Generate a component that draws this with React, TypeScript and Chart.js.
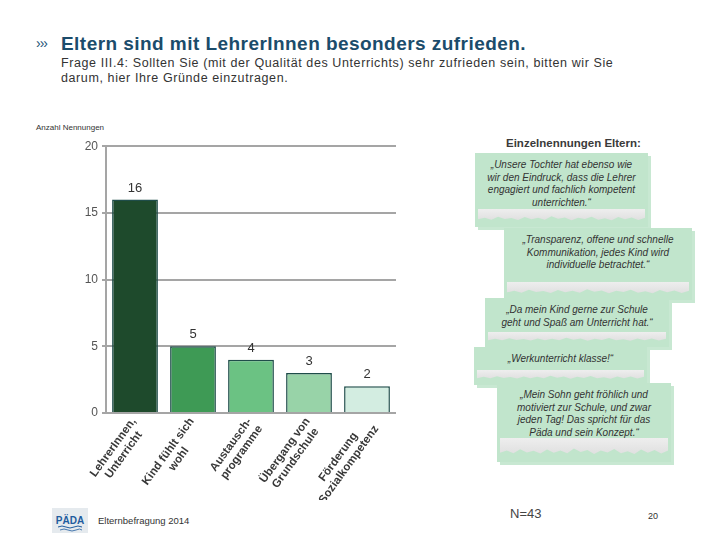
import React, { useEffect, useRef } from "react";
import { Chart, registerables } from "chart.js";

Chart.register(...registerables);

// ---- data ----
const categories: string[][] = [
  ["LehrerInnen,", "Unterricht"],
  ["Kind fühlt sich", "wohl"],
  ["Austausch-", "programme"],
  ["Übergang von", "Grundschule"],
  ["Förderung", "Sozialkompetenz"],
];
const counts = [16, 5, 4, 3, 2];
const barColors = ["#1e4a2c", "#3e9a55", "#6bc283", "#98d3a8", "#d3ede1"];
const yMin = 0;
const yMax = 20;
const yStep = 5;

const quoteTexts: string[][] = [
  ["„Unsere Tochter hat ebenso wie", "wir den Eindruck, dass die Lehrer", "engagiert und fachlich kompetent", "unterrichten.“"],
  ["„Transparenz, offene und schnelle", "Kommunikation, jedes Kind wird", "individuelle betrachtet.“"],
  ["„Da mein Kind gerne zur Schule", "geht und Spaß am Unterricht hat.“"],
  ["„Werkunterricht klasse!“"],
  ["„Mein Sohn geht fröhlich und", "motiviert zur Schule, und zwar", "jeden Tag! Das spricht für das", "Päda und sein Konzept.“"],
];

const titleText = "Eltern sind mit LehrerInnen besonders zufrieden.";
const subtitleLines = [
  "Frage III.4: Sollten Sie (mit der Qualität des Unterrichts) sehr zufrieden sein, bitten wir Sie",
  "darum, hier Ihre Gründe einzutragen.",
];
const yAxisTitle = "Anzahl Nennungen";
const quotesHeader = "Einzelnennungen Eltern:";
const footerText = "Elternbefragung 2014";
const nText = "N=43";
const pageNo = "20";

// ---- layout (not data) ----
const quoteBoxes = [
  { left: 475, top: 153, width: 173, textH: 56, stripH: 14 },
  { left: 504, top: 228, width: 188, textH: 54, stripH: 14 },
  { left: 485, top: 298, width: 184, textH: 34, stripH: 11 },
  { left: 474, top: 347, width: 173, textH: 23, stripH: 11 },
  { left: 497, top: 383, width: 174, textH: 55, stripH: 20 },
];

const FONT = "'Liberation Sans', Arial, Helvetica, sans-serif";
const LABEL_ANGLE = (54 * Math.PI) / 180;

const valueLabels = {
  id: "valueLabels",
  afterDatasetsDraw(chart: any) {
    const ctx = chart.ctx;
    const meta = chart.getDatasetMeta(0);
    const data = chart.data.datasets[0].data;
    ctx.save();
    ctx.font = `13px ${FONT}`;
    ctx.fillStyle = "#333333";
    ctx.textAlign = "center";
    ctx.textBaseline = "bottom";
    meta.data.forEach((el: any, i: number) => {
      ctx.fillText(String(data[i]), el.x, el.y - 5);
    });
    ctx.restore();
  },
};

// centred, rotated multi-line category labels placed via the x scale
const categoryLabels = {
  id: "categoryLabels",
  afterDraw(chart: any) {
    const ctx = chart.ctx;
    const xScale = chart.scales.x;
    const bottom = chart.chartArea.bottom;
    const labels = chart.data.labels as string[][];
    const lineH = 13;
    ctx.save();
    ctx.font = `bold 11.5px ${FONT}`;
    ctx.fillStyle = "#383838";
    ctx.textAlign = "center";
    ctx.textBaseline = "middle";
    labels.forEach((lines, i) => {
      const px = xScale.getPixelForValue(i) + 4;
      const py = bottom + 10;
      const maxW = Math.max(...lines.map((l) => ctx.measureText(l).width));
      ctx.save();
      ctx.translate(px, py);
      ctx.rotate(-LABEL_ANGLE);
      lines.forEach((l, j) => {
        const y = (j - (lines.length - 1) / 2) * lineH;
        ctx.fillText(l, -maxW / 2, y);
      });
      ctx.restore();
    });
    ctx.restore();
  },
};

function BarChart() {
  const ref = useRef<HTMLCanvasElement | null>(null);
  useEffect(() => {
    if (!ref.current) return;
    const chart = new Chart(ref.current, {
      type: "bar",
      data: {
        labels: categories,
        datasets: [
          {
            data: counts,
            backgroundColor: barColors,
            borderColor: "#1f4d4a",
            borderWidth: 1.5,
            categoryPercentage: 1,
            barPercentage: 0.79,
          },
        ],
      },
      options: {
        animation: false,
        responsive: false,
        devicePixelRatio: 1,
        layout: { padding: { top: 10, right: 14, bottom: 0, left: 0 } },
        plugins: {
          legend: { display: false },
          tooltip: { enabled: false },
          title: { display: false },
        },
        scales: {
          x: {
            grid: { display: false, drawTicks: false },
            border: { display: false },
            ticks: { display: false },
            afterFit: (scale: any) => {
              scale.height = 87;
            },
          },
          y: {
            min: yMin,
            max: yMax,
            ticks: {
              stepSize: yStep,
              padding: 4,
              color: "#555555",
              font: { family: FONT, size: 12 },
            },
            grid: { color: "#a5a5a5", lineWidth: 2, tickLength: 4, drawTicks: true },
            border: { display: true, color: "#a5a5a5", width: 2 },
            afterFit: (scale: any) => {
              scale.width = 46;
            },
          },
        },
      },
      plugins: [valueLabels, categoryLabels],
    });
    return () => chart.destroy();
  }, []);
  return (
    <canvas
      ref={ref}
      width={350}
      height={365}
      style={{ position: "absolute", left: 60, top: 135, width: 350, height: 365 }}
    />
  );
}

const tornClip =
  "polygon(0% 0%, 100% 0%, 100% 62%, 96% 78%, 92% 60%, 88% 74%, 84% 58%, 80% 80%, 76% 66%, 72% 76%, 68% 55%, 64% 72%, 60% 62%, 56% 80%, 52% 60%, 48% 70%, 44% 52%, 40% 76%, 36% 62%, 32% 74%, 28% 58%, 24% 78%, 20% 64%, 16% 72%, 12% 56%, 8% 76%, 4% 62%, 0% 74%)";

function Quote({ box, lines }: { box: any; lines: string[] }) {
  return (
    <div
      style={{
        position: "absolute",
        left: box.left,
        top: box.top,
        width: box.width,
        height: box.textH + box.stripH + 4,
        background: "#c1e5cc",
        boxShadow: "3px 3px 0 #c8e8d2",
      }}
    >
      <div
        style={{
          paddingTop: 6,
          height: box.textH - 6,
          textAlign: "center",
          fontFamily: FONT,
          fontStyle: "italic",
          fontSize: 10,
          lineHeight: "12.5px",
          color: "#333333",
          whiteSpace: "nowrap",
        }}
      >
        {lines.map((l, i) => (
          <div key={i}>{l}</div>
        ))}
      </div>
      <div
        style={{
          marginLeft: 3,
          marginRight: 3,
          height: box.stripH,
          background: "linear-gradient(#eeeeee, #dcdcdc)",
          clipPath: tornClip,
        }}
      />
    </div>
  );
}

export default function App() {
  useEffect(() => {
    document.body.style.margin = "0";
  }, []);
  return (
    <div
      style={{
        position: "fixed",
        left: 0,
        top: 0,
        width: 720,
        height: 540,
        overflow: "hidden",
        background: "#ffffff",
        fontFamily: FONT,
      }}
    >
      <div
        style={{
          position: "absolute",
          left: 36,
          top: 36,
          fontSize: 14,
          color: "#1d5477",
          lineHeight: "14px",
          letterSpacing: -1,
        }}
      >
        ›››
      </div>
      <div
        style={{
          position: "absolute",
          left: 61,
          top: 34,
          fontSize: 19,
          lineHeight: "19px",
          fontWeight: "bold",
          letterSpacing: 0.45,
          color: "#1b4c6b",
          whiteSpace: "nowrap",
        }}
      >
        {titleText}
      </div>
      <div
        style={{
          position: "absolute",
          left: 61,
          top: 56,
          fontSize: 12.5,
          lineHeight: "15px",
          letterSpacing: 0.6,
          color: "#333333",
          whiteSpace: "nowrap",
        }}
      >
        {subtitleLines.map((l, i) => (
          <div key={i}>{l}</div>
        ))}
      </div>
      <div style={{ position: "absolute", left: 36, top: 123, fontSize: 8, lineHeight: "10px", color: "#333333", whiteSpace: "nowrap" }}>
        {yAxisTitle}
      </div>
      <div
        style={{
          position: "absolute",
          left: 506,
          top: 136,
          fontSize: 11.5,
          lineHeight: "14px",
          fontWeight: "bold",
          color: "#3a3a3a",
          whiteSpace: "nowrap",
        }}
      >
        {quotesHeader}
      </div>

      <BarChart />

      {quoteBoxes.map((b, i) => (
        <Quote key={i} box={b} lines={quoteTexts[i]} />
      ))}

      <svg style={{ position: "absolute", left: 52, top: 508 }} width={36} height={25}>
        <rect x={0} y={0} width={36} height={25} fill="#e5eaee" />
        <text x={18} y={16} textAnchor="middle" fontFamily={FONT} fontWeight="bold" fontSize={10} fill="#1f5c9e">
          PÄDA
        </text>
        <path d="M6 19 Q10 17 14 19 T22 19 T30 19" stroke="#1f5c9e" strokeWidth={1} fill="none" />
        <path d="M8 22 Q12 20 16 22 T24 22 T30 22" stroke="#1f5c9e" strokeWidth={0.8} fill="none" />
      </svg>
      <div style={{ position: "absolute", left: 98, top: 515, fontSize: 9.5, lineHeight: "12px", color: "#333333", whiteSpace: "nowrap" }}>
        {footerText}
      </div>
      <div style={{ position: "absolute", left: 510, top: 506, fontSize: 13, lineHeight: "16px", color: "#444444", whiteSpace: "nowrap" }}>
        {nText}
      </div>
      <div style={{ position: "absolute", left: 648, top: 510, fontSize: 9, lineHeight: "12px", color: "#333333", whiteSpace: "nowrap" }}>
        {pageNo}
      </div>
    </div>
  );
}
